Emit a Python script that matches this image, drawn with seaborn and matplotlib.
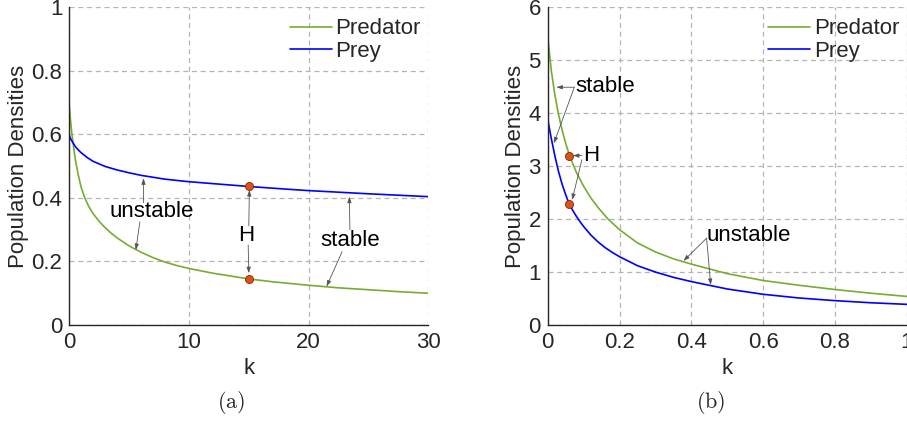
import numpy as np
import pandas as pd
import matplotlib
matplotlib.use("Agg")
import matplotlib.pyplot as plt
import seaborn as sns

# ---- panel (a) data ----
k_a_pred = [0, 0.05, 0.1, 0.2, 0.3, 0.5, 0.75, 1, 1.3, 1.6, 2, 2.5, 3, 3.5, 4, 5, 6, 7,
            8, 9, 10, 12, 14, 15, 17, 20, 22.5, 25, 27.5, 30]
pred_a = [0.69, 0.667, 0.645, 0.607, 0.577, 0.522, 0.472, 0.432, 0.40, 0.375, 0.350,
          0.326, 0.306, 0.289, 0.274, 0.249, 0.229, 0.212, 0.198, 0.187, 0.178, 0.163,
          0.151, 0.145, 0.136, 0.125, 0.117, 0.111, 0.105, 0.100]
k_a_prey = [0, 0.1, 0.25, 0.5, 0.75, 1, 1.5, 2, 3, 4, 5, 6, 8, 10, 12, 15, 18, 20, 25, 30]
prey_a = [0.597, 0.587, 0.577, 0.562, 0.551, 0.542, 0.527, 0.515, 0.499, 0.488, 0.479,
          0.471, 0.459, 0.451, 0.445, 0.436, 0.428, 0.423, 0.413, 0.404]
hopf_k_a = [15, 15]
hopf_y_a = [0.437, 0.145]

# ---- panel (b) data ----
k_b_pred = [0, 0.01, 0.02, 0.03, 0.04, 0.05, 0.06, 0.07, 0.08, 0.1, 0.12, 0.14, 0.168,
            0.2, 0.25, 0.3, 0.35, 0.4, 0.45, 0.5, 0.6, 0.7, 0.8, 0.9, 1.0]
pred_b = [5.44, 4.80, 4.34, 3.98, 3.68, 3.43, 3.22, 3.04, 2.88, 2.62, 2.40, 2.22, 2.0,
          1.80, 1.55, 1.38, 1.25, 1.15, 1.06, 0.97, 0.84, 0.75, 0.67, 0.60, 0.54]
k_b_prey = [0, 0.01, 0.02, 0.03, 0.04, 0.05, 0.06, 0.07, 0.08, 0.09, 0.1, 0.12, 0.14,
            0.16, 0.18, 0.2, 0.25, 0.3, 0.35, 0.4, 0.45, 0.5, 0.6, 0.7, 0.8, 0.9, 1.0]
prey_b = [3.88, 3.52, 3.19, 2.90, 2.66, 2.46, 2.28, 2.16, 2.05, 1.95, 1.86, 1.70, 1.57,
          1.46, 1.37, 1.29, 1.12, 1.0, 0.90, 0.82, 0.75, 0.68, 0.58, 0.51, 0.46, 0.42, 0.39]
hopf_k_b = [0.059, 0.059]
hopf_y_b = [3.2, 2.28]

GREEN = "#77AC30"
BLUE = "#0000FF"
HOPF = "#D95319"
INK = "#262626"

sns.set_style("white")
plt.rcParams["font.family"] = ["Liberation Sans", "DejaVu Sans"]
plt.rcParams["mathtext.fontset"] = "cm"
FS = 16

fig = plt.figure(figsize=(9.07, 4.24), dpi=100)
ax1 = fig.add_axes([0.0764, 0.2335, 0.3958, 0.7493])
ax2 = fig.add_axes([0.6039, 0.2335, 0.3958, 0.7493])


def draw(ax, kp, pred, kq, prey, hk, hy):
    df = pd.DataFrame({"k": list(kp) + list(kq),
                       "value": list(pred) + list(prey),
                       "series": ["Predator"] * len(kp) + ["Prey"] * len(kq)})
    sns.lineplot(data=df, x="k", y="value", hue="series", ax=ax,
                 palette={"Predator": GREEN, "Prey": BLUE}, sort=False,
                 estimator=None, linewidth=1.2, legend=False)
    sns.scatterplot(x=hk, y=hy, ax=ax, color=HOPF, s=34, edgecolor="#8B2A00",
                    linewidth=0.6, zorder=5, legend=False)
    ax.grid(True, linestyle=(0, (4, 3)), color="#b5b5b5", linewidth=0.9)
    for s in ["top", "right"]:
        ax.spines[s].set_visible(False)
    for s in ["left", "bottom"]:
        ax.spines[s].set_color(INK)
        ax.spines[s].set_linewidth(1.0)
    ax.tick_params(direction="in", length=3, color=INK, labelcolor=INK,
                   labelsize=FS, pad=5)
    ax.set_xlabel("k", fontsize=FS, color=INK, labelpad=4)
    ax.set_ylabel("Population Densities", fontsize=FS, color=INK, labelpad=2)
    handles = [plt.Line2D([], [], color=GREEN, lw=1.2),
               plt.Line2D([], [], color=BLUE, lw=1.2)]
    ax.legend(handles, ["Predator", "Prey"], loc="upper right", frameon=False,
              fontsize=FS, handlelength=1.9, handletextpad=0.15,
              labelspacing=0.05, borderaxespad=0.1, bbox_to_anchor=(1.01, 1.0))


def arrow(ax, start, end):
    ax.annotate("", xy=end, xytext=start,
                arrowprops=dict(arrowstyle="-|>,head_length=0.35,head_width=0.12",
                                color="#555555", lw=0.6, shrinkA=0, shrinkB=0))


draw(ax1, k_a_pred, pred_a, k_a_prey, prey_a, hopf_k_a, hopf_y_a)
ax1.set_xlim(0, 30)
ax1.set_ylim(0, 1)
ax1.set_xticks([0, 10, 20, 30])
ax1.set_yticks([0, 0.2, 0.4, 0.6, 0.8, 1])
ax1.set_yticklabels(["0", "0.2", "0.4", "0.6", "0.8", "1"])

ax1.text(6.87, 0.356, "unstable", fontsize=FS, ha="center", va="center", color="black")
arrow(ax1, (6.2, 0.385), (6.2, 0.462))
arrow(ax1, (5.9, 0.325), (5.56, 0.236))
ax1.text(14.8, 0.283, "H", fontsize=FS, ha="center", va="center", color="black")
arrow(ax1, (15.0, 0.312), (15.05, 0.425))
arrow(ax1, (14.95, 0.252), (15.0, 0.163))
ax1.text(23.5, 0.265, "stable", fontsize=FS, ha="center", va="center", color="black")
arrow(ax1, (23.45, 0.30), (23.4, 0.404))
arrow(ax1, (22.8, 0.231), (21.5, 0.121))

draw(ax2, k_b_pred, pred_b, k_b_prey, prey_b, hopf_k_b, hopf_y_b)
ax2.set_xlim(0, 1)
ax2.set_ylim(0, 6)
ax2.set_xticks([0, 0.2, 0.4, 0.6, 0.8, 1])
ax2.set_xticklabels(["0", "0.2", "0.4", "0.6", "0.8", "1"])
ax2.set_yticks([0, 1, 2, 3, 4, 5, 6])

ax2.text(0.077, 4.51, "stable", fontsize=FS, ha="left", va="center", color="black")
arrow(ax2, (0.074, 4.49), (0.024, 4.49))
arrow(ax2, (0.074, 4.49), (0.017, 3.43))
ax2.text(0.098, 3.2, "H", fontsize=FS, ha="left", va="center", color="black")
arrow(ax2, (0.095, 3.2), (0.07, 3.2))
arrow(ax2, (0.095, 3.12), (0.068, 2.36))
ax2.text(0.442, 1.69, "unstable", fontsize=FS, ha="left", va="center", color="black")
arrow(ax2, (0.4425, 1.64), (0.378, 1.21))
arrow(ax2, (0.4425, 1.64), (0.454, 0.755))

fig.text(231 / 907, 1 - 403 / 424, r"$\mathrm{(a)}$", fontsize=16, ha="center",
         va="center", color=INK)
fig.text(711 / 907, 1 - 403 / 424, r"$\mathrm{(b)}$", fontsize=16, ha="center",
         va="center", color=INK)

fig.savefig("out.png", dpi=100)
